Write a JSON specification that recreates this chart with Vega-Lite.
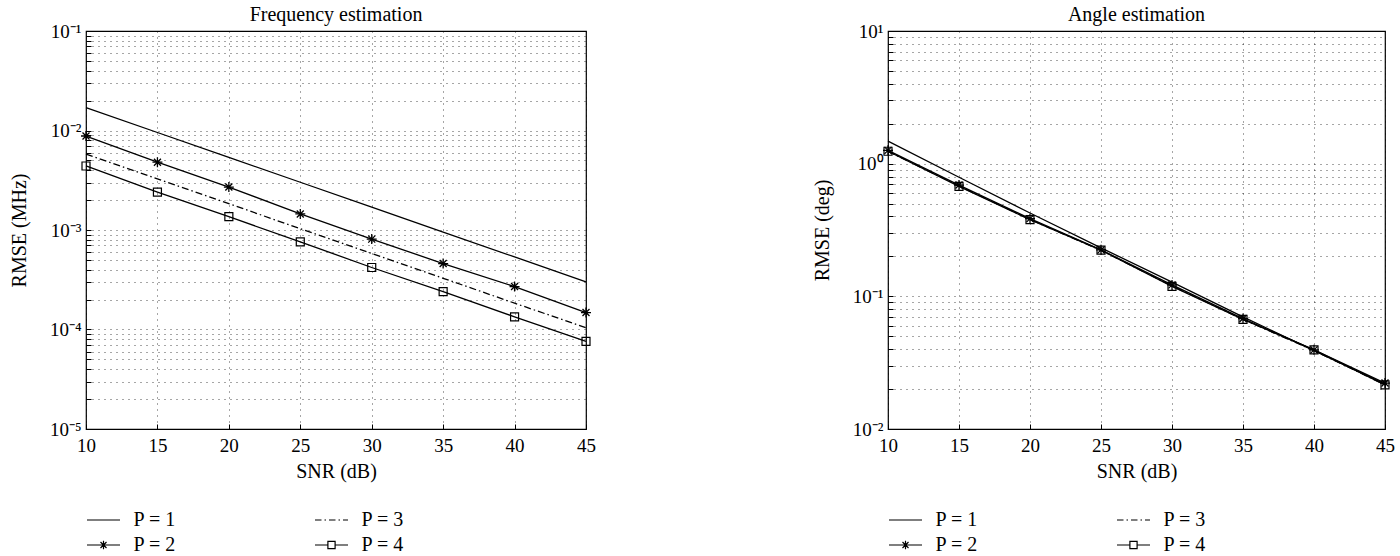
{
  "$schema": "https://vega.github.io/schema/vega-lite/v6.json",
  "background": "white",
  "padding": {"left": 8, "top": 4, "right": 5, "bottom": 0},
  "config": {
    "font": "Liberation Serif",
    "view": {"stroke": "black", "strokeWidth": 1.2},
    "title": {"fontSize": 20, "fontWeight": "normal", "color": "black", "offset": -3, "font": "Liberation Serif"},
    "axis": {
      "labelFont": "Liberation Serif", "titleFont": "Liberation Serif",
      "labelFontSize": 19, "titleFontSize": 20, "titleFontWeight": "normal",
      "labelColor": "black", "titleColor": "black",
      "grid": true, "gridDash": [1, 5], "gridColor": "black", "gridOpacity": 0.7, "gridWidth": 1,
      "domain": false, "ticks": true, "tickSize": -5, "tickColor": "black",
      "labelFlush": false, "labelOverlap": false
    }
  },
  "datasets": {
    "freq": [
      {"snr": 10, "P": "P = 1", "rmse": 0.0170}, {"snr": 15, "P": "P = 1", "rmse": 0.00955}, {"snr": 20, "P": "P = 1", "rmse": 0.00537}, {"snr": 25, "P": "P = 1", "rmse": 0.00302},
      {"snr": 30, "P": "P = 1", "rmse": 0.00170}, {"snr": 35, "P": "P = 1", "rmse": 0.000954}, {"snr": 40, "P": "P = 1", "rmse": 0.000536}, {"snr": 45, "P": "P = 1", "rmse": 0.000301},
      {"snr": 10, "P": "P = 2", "rmse": 0.0088}, {"snr": 15, "P": "P = 2", "rmse": 0.0048}, {"snr": 20, "P": "P = 2", "rmse": 0.0027}, {"snr": 25, "P": "P = 2", "rmse": 0.00145},
      {"snr": 30, "P": "P = 2", "rmse": 0.00081}, {"snr": 35, "P": "P = 2", "rmse": 0.00046}, {"snr": 40, "P": "P = 2", "rmse": 0.00027}, {"snr": 45, "P": "P = 2", "rmse": 0.000148},
      {"snr": 10, "P": "P = 3", "rmse": 0.0058}, {"snr": 15, "P": "P = 3", "rmse": 0.00327}, {"snr": 20, "P": "P = 3", "rmse": 0.00184}, {"snr": 25, "P": "P = 3", "rmse": 0.00103},
      {"snr": 30, "P": "P = 3", "rmse": 0.00058}, {"snr": 35, "P": "P = 3", "rmse": 0.000327}, {"snr": 40, "P": "P = 3", "rmse": 0.000184}, {"snr": 45, "P": "P = 3", "rmse": 0.000104},
      {"snr": 10, "P": "P = 4", "rmse": 0.0044}, {"snr": 15, "P": "P = 4", "rmse": 0.0024}, {"snr": 20, "P": "P = 4", "rmse": 0.00136}, {"snr": 25, "P": "P = 4", "rmse": 0.00076},
      {"snr": 30, "P": "P = 4", "rmse": 0.00042}, {"snr": 35, "P": "P = 4", "rmse": 0.00024}, {"snr": 40, "P": "P = 4", "rmse": 0.000134}, {"snr": 45, "P": "P = 4", "rmse": 0.000076}
    ],
    "angle": [
      {"snr": 10, "P": "P = 1", "rmse": 1.48}, {"snr": 15, "P": "P = 1", "rmse": 0.79}, {"snr": 20, "P": "P = 1", "rmse": 0.425}, {"snr": 25, "P": "P = 1", "rmse": 0.232},
      {"snr": 30, "P": "P = 1", "rmse": 0.128}, {"snr": 35, "P": "P = 1", "rmse": 0.070}, {"snr": 40, "P": "P = 1", "rmse": 0.039}, {"snr": 45, "P": "P = 1", "rmse": 0.0218},
      {"snr": 10, "P": "P = 2", "rmse": 1.26}, {"snr": 15, "P": "P = 2", "rmse": 0.69}, {"snr": 20, "P": "P = 2", "rmse": 0.385}, {"snr": 25, "P": "P = 2", "rmse": 0.224},
      {"snr": 30, "P": "P = 2", "rmse": 0.122}, {"snr": 35, "P": "P = 2", "rmse": 0.068}, {"snr": 40, "P": "P = 2", "rmse": 0.0395}, {"snr": 45, "P": "P = 2", "rmse": 0.0222},
      {"snr": 10, "P": "P = 3", "rmse": 1.24}, {"snr": 15, "P": "P = 3", "rmse": 0.68}, {"snr": 20, "P": "P = 3", "rmse": 0.38}, {"snr": 25, "P": "P = 3", "rmse": 0.222},
      {"snr": 30, "P": "P = 3", "rmse": 0.12}, {"snr": 35, "P": "P = 3", "rmse": 0.067}, {"snr": 40, "P": "P = 3", "rmse": 0.039}, {"snr": 45, "P": "P = 3", "rmse": 0.0215},
      {"snr": 10, "P": "P = 4", "rmse": 1.24}, {"snr": 15, "P": "P = 4", "rmse": 0.675}, {"snr": 20, "P": "P = 4", "rmse": 0.378}, {"snr": 25, "P": "P = 4", "rmse": 0.223},
      {"snr": 30, "P": "P = 4", "rmse": 0.119}, {"snr": 35, "P": "P = 4", "rmse": 0.067}, {"snr": 40, "P": "P = 4", "rmse": 0.0395}, {"snr": 45, "P": "P = 4", "rmse": 0.0215}
    ]
  },
  "bounds": "flush",
  "spacing": 302,
  "resolve": {
    "scale": {"x": "independent", "y": "independent", "shape": "independent"},
    "legend": {"shape": "independent"}
  },
  "hconcat": [
    {
      "width": 500, "height": 398,
      "title": {"text": "Frequency estimation"},
      "data": {"name": "freq"},
      "encoding": {
        "x": {"field": "snr", "type": "quantitative",
              "scale": {"domain": [10, 45], "nice": false, "zero": false},
              "axis": {"title": "SNR (dB)", "values": [10, 15, 20, 25, 30, 35, 40, 45], "labelPadding": 12, "titlePadding": 6}},
        "y": {"field": "rmse", "type": "quantitative",
              "scale": {"type": "log", "domain": [0.00001, 0.1], "nice": false},
              "axis": {"title": "RMSE (MHz)", "titlePadding": 20, "labelPadding": 10,
                       "values": [0.00001, 0.00002, 0.00003, 0.00004, 0.00005, 0.00006, 0.00007, 0.00008, 0.00009,
                                  0.0001, 0.0002, 0.0003, 0.0004, 0.0005, 0.0006, 0.0007, 0.0008, 0.0009,
                                  0.001, 0.002, 0.003, 0.004, 0.005, 0.006, 0.007, 0.008, 0.009,
                                  0.01, 0.02, 0.03, 0.04, 0.05, 0.06, 0.07, 0.08, 0.09, 0.1],
                       "labelExpr": "datum.value == 0.1 ? '10⁻¹' : datum.value == 0.01 ? '10⁻²' : datum.value == 0.001 ? '10⁻³' : datum.value == 0.0001 ? '10⁻⁴' : datum.value == 0.00001 ? '10⁻⁵' : ''"}}
      },
      "layer": [
        {
          "transform": [{"filter": "datum.P != 'P = 3'"}],
          "mark": {"type": "line", "color": "black", "strokeWidth": 1.3},
          "encoding": {"detail": {"field": "P", "type": "nominal"}}
        },
        {
          "transform": [{"filter": "datum.P == 'P = 3'"}],
          "mark": {"type": "line", "color": "black", "strokeWidth": 1.3, "strokeDash": [7, 3, 1.5, 3]},
          "encoding": {}
        },
        {
          "transform": [{"filter": "datum.P == 'P = 2'"}],
          "mark": {"type": "point", "shape": "M0,-1V1M-1,0H1M-0.7,-0.7L0.7,0.7M-0.7,0.7L0.7,-0.7", "size": 100, "color": "black", "filled": false, "strokeWidth": 1.3, "opacity": 1}
        },
        {
          "transform": [{"filter": "datum.P == 'P = 4'"}],
          "mark": {"type": "point", "shape": "square", "size": 64, "color": "black", "filled": false, "strokeWidth": 1.2, "opacity": 1}
        },
        {
          "transform": [{"filter": "false"}],
          "mark": {"type": "point", "color": "black", "filled": false, "strokeWidth": 1.2, "opacity": 1},
          "encoding": {
            "shape": {"field": "P", "type": "nominal",
                      "scale": {"domain": ["P = 1", "P = 2", "P = 3", "P = 4"],
                                "range": ["M-1.375,0H1.375",
                                          "M-1.375,0H1.375M0,-0.35V0.35M-0.35,0H0.35M-0.25,-0.25L0.25,0.25M-0.25,0.25L0.25,-0.25",
                                          "M-1.375,0H-0.833M-0.583,0H-0.458M-0.208,0H0.333M0.583,0H0.708M0.958,0H1.375",
                                          "M-1.375,0H-0.3M0.3,0H1.375M-0.3,-0.3H0.3V0.3H-0.3Z"]},
                      "legend": {"orient": "none", "legendX": 4.5, "legendY": 476, "padding": 0, "title": null, "columns": 2,
                                 "columnPadding": 136, "rowPadding": 2, "symbolSize": 576, "symbolStrokeWidth": 1.2,
                                 "symbolStrokeColor": "black", "symbolFillColor": "transparent",
                                 "labelFontSize": 20, "labelColor": "black", "labelFont": "Liberation Serif", "labelOffset": 17}}
          }
        }
      ]
    },
    {
      "width": 497, "height": 398,
      "title": {"text": "Angle estimation"},
      "data": {"name": "angle"},
      "encoding": {
        "x": {"field": "snr", "type": "quantitative",
              "scale": {"domain": [10, 45], "nice": false, "zero": false},
              "axis": {"title": "SNR (dB)", "values": [10, 15, 20, 25, 30, 35, 40, 45], "labelPadding": 12, "titlePadding": 6}},
        "y": {"field": "rmse", "type": "quantitative",
              "scale": {"type": "log", "domain": [0.01, 10], "nice": false},
              "axis": {"title": "RMSE (deg)", "titlePadding": 20, "labelPadding": 10,
                       "values": [0.01, 0.02, 0.03, 0.04, 0.05, 0.06, 0.07, 0.08, 0.09,
                                  0.1, 0.2, 0.3, 0.4, 0.5, 0.6, 0.7, 0.8, 0.9,
                                  1, 2, 3, 4, 5, 6, 7, 8, 9, 10],
                       "labelExpr": "datum.value == 10 ? '10¹' : datum.value == 1 ? '10⁰' : datum.value == 0.1 ? '10⁻¹' : datum.value == 0.01 ? '10⁻²' : ''"}}
      },
      "layer": [
        {
          "transform": [{"filter": "datum.P != 'P = 3'"}],
          "mark": {"type": "line", "color": "black", "strokeWidth": 1.3},
          "encoding": {"detail": {"field": "P", "type": "nominal"}}
        },
        {
          "transform": [{"filter": "datum.P == 'P = 3'"}],
          "mark": {"type": "line", "color": "black", "strokeWidth": 1.3, "strokeDash": [7, 3, 1.5, 3]},
          "encoding": {}
        },
        {
          "transform": [{"filter": "datum.P == 'P = 2'"}],
          "mark": {"type": "point", "shape": "M0,-1V1M-1,0H1M-0.7,-0.7L0.7,0.7M-0.7,0.7L0.7,-0.7", "size": 100, "color": "black", "filled": false, "strokeWidth": 1.3, "opacity": 1}
        },
        {
          "transform": [{"filter": "datum.P == 'P = 4'"}],
          "mark": {"type": "point", "shape": "square", "size": 64, "color": "black", "filled": false, "strokeWidth": 1.2, "opacity": 1}
        },
        {
          "transform": [{"filter": "false"}],
          "mark": {"type": "point", "color": "black", "filled": false, "strokeWidth": 1.2, "opacity": 1},
          "encoding": {
            "shape": {"field": "P", "type": "nominal",
                      "scale": {"domain": ["P = 1", "P = 2", "P = 3", "P = 4"],
                                "range": ["M-1.375,0H1.375",
                                          "M-1.375,0H1.375M0,-0.35V0.35M-0.35,0H0.35M-0.25,-0.25L0.25,0.25M-0.25,0.25L0.25,-0.25",
                                          "M-1.375,0H-0.833M-0.583,0H-0.458M-0.208,0H0.333M0.583,0H0.708M0.958,0H1.375",
                                          "M-1.375,0H-0.3M0.3,0H1.375M-0.3,-0.3H0.3V0.3H-0.3Z"]},
                      "legend": {"orient": "none", "legendX": 4.5, "legendY": 476, "padding": 0, "title": null, "columns": 2,
                                 "columnPadding": 136, "rowPadding": 2, "symbolSize": 576, "symbolStrokeWidth": 1.2,
                                 "symbolStrokeColor": "black", "symbolFillColor": "transparent",
                                 "labelFontSize": 20, "labelColor": "black", "labelFont": "Liberation Serif", "labelOffset": 17}}
          }
        }
      ]
    }
  ]
}
